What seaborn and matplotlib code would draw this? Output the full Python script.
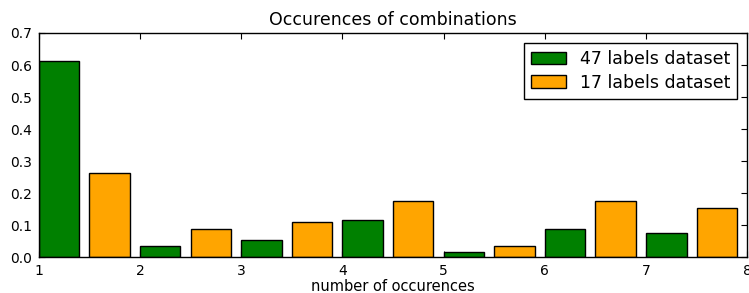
import matplotlib
matplotlib.use("Agg")
import matplotlib.pyplot as plt
import matplotlib.patches as mpatches
import pandas as pd
import seaborn as sns

# number of occurences (left edge of each bin)
bins = [1, 2, 3, 4, 5, 6, 7]
# normalised frequencies
labels_47 = [0.613, 0.035, 0.054, 0.115, 0.018, 0.087, 0.077]
labels_17 = [0.263, 0.088, 0.109, 0.175, 0.036, 0.175, 0.153]
names = ["47 labels dataset", "17 labels dataset"]
colors = {"47 labels dataset": "green", "17 labels dataset": "orange"}

df = pd.concat([
    pd.DataFrame({"bin": bins, "freq": labels_47, "dataset": names[0]}),
    pd.DataFrame({"bin": bins, "freq": labels_17, "dataset": names[1]}),
], ignore_index=True)
# pair of bars sits in the left 0.9 of each bin
df["pos"] = df["bin"] + 0.45

sns.set_style("white")
plt.rcParams["font.family"] = ["DejaVu Sans"]
plt.rcParams.update({
    "xtick.direction": "in", "ytick.direction": "in",
    "xtick.top": True, "ytick.right": True,
    "xtick.bottom": True, "ytick.left": True,
    "xtick.major.size": 4, "ytick.major.size": 4,
    "xtick.major.width": 0.8, "ytick.major.width": 0.8,
    "xtick.color": "black", "ytick.color": "black",
    "text.color": "black", "axes.labelcolor": "black",
    "axes.edgecolor": "black", "axes.linewidth": 1.0,
})

fig = plt.figure(figsize=(7.49, 2.93), dpi=100)
ax = fig.add_axes([0.0517, 0.1218, 0.9460, 0.7656])

sns.barplot(data=df, x="pos", y="freq", hue="dataset", hue_order=names,
            palette=colors, native_scale=True, dodge=True, width=1.0, gap=0.2,
            saturation=1, errorbar=None, edgecolor="black", linewidth=1.0,
            legend=False, ax=ax)

ax.set_xlim(1, 8)
ax.set_ylim(0, 0.7)
ax.set_xticks(range(1, 9))
ax.set_yticks([0.0, 0.1, 0.2, 0.3, 0.4, 0.5, 0.6, 0.7])
ax.set_yticklabels(["0.0", "0.1", "0.2", "0.3", "0.4", "0.5", "0.6", "0.7"])
ax.tick_params(labelsize=10, pad=5)
ax.set_xlabel("number of occurences", fontsize=10.5, labelpad=0.5)
ax.set_ylabel("")
ax.set_title("Occurences of combinations", fontsize=12.5, pad=6)

handles = [mpatches.Patch(facecolor=colors[n], edgecolor="black", label=n) for n in names]
leg = ax.legend(handles=handles, loc="upper right", fontsize=12.5, frameon=True,
                fancybox=False, shadow=False, borderaxespad=0.6,
                handlelength=2.0, handletextpad=0.8, borderpad=0.4, labelspacing=0.3)
leg.get_frame().set_edgecolor("black")
leg.get_frame().set_linewidth(1.0)
leg.get_frame().set_alpha(1)

fig.savefig("out.png", dpi=100)
